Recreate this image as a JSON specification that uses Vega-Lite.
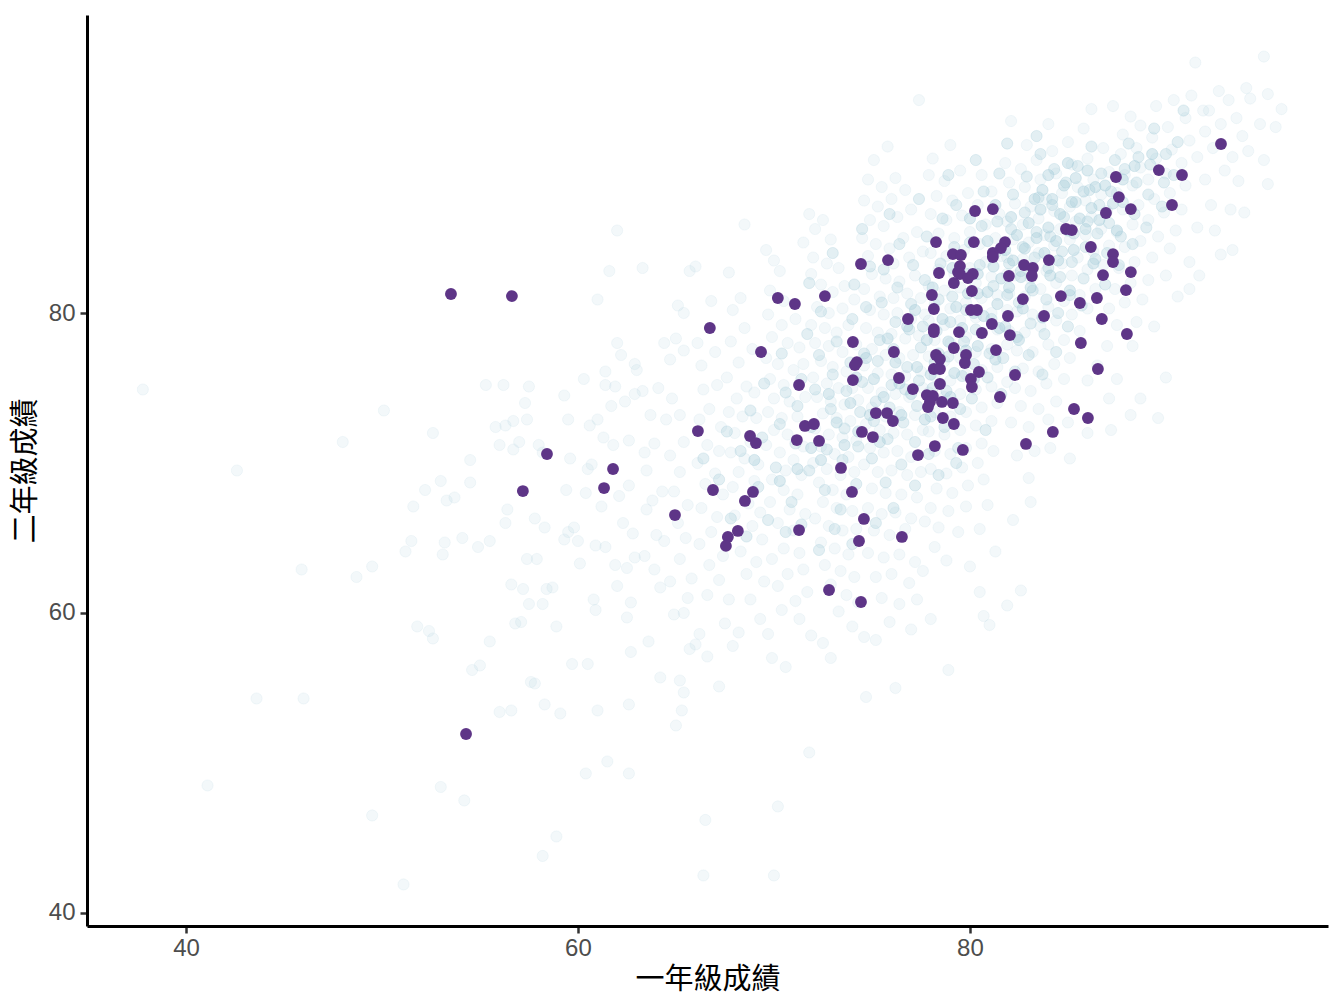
{"$schema":"https://vega.github.io/schema/vega-lite/v6.json","width":1241,"height":911,"autosize":{"type":"none"},"padding":{"left":87,"top":15,"right":16,"bottom":82},"background":"white","config":{"view":{"stroke":null},"axis":{"grid":false,"domainColor":"black","domainWidth":3,"tickColor":"#333333","tickWidth":2.5,"tickSize":7,"labelColor":"#4d4d4d","labelFont":"Liberation Sans","labelFontSize":24,"titleFont":"Noto Sans CJK TC","titleFontSize":29,"titleFontWeight":"normal","titleColor":"black"}},"datasets":{"bg":[
{"a":37.8,"b":74.9},{"a":42.6,"b":69.5},{"a":50.1,"b":73.5},{"a":48,"b":71.4},{"a":52.6,"b":72},{"a":45.9,"b":62.9},{"a":48.7,"b":62.4},{"a":49.5,"b":63.1},{"a":43.6,"b":54.3},{"a":46,"b":54.3},{"a":41.1,"b":48.5},{"a":49.5,"b":46.5},{"a":51.1,"b":41.9},{"a":53,"b":48.4},{"a":54.2,"b":47.5},{"a":58.2,"b":43.8},{"a":58.9,"b":45.1},{"a":66.4,"b":42.5},{"a":70,"b":42.5},{"a":66.5,"b":46.2},{"a":70.2,"b":47.1},{"a":71.8,"b":50.7},{"a":62.6,"b":49.3},{"a":61.5,"b":50.1},{"a":60.4,"b":49.3},{"a":56.6,"b":53.5},{"a":56,"b":53.4},{"a":59.1,"b":53.3},{"a":58.3,"b":53.9},{"a":61,"b":53.5},{"a":62.6,"b":53.9},{"a":51.8,"b":59.1},{"a":52.4,"b":58.8},{"a":52.6,"b":58.3},{"a":55.5,"b":58.1},{"a":55,"b":56.5},{"a":54.6,"b":56.2},{"a":57.6,"b":55.4},{"a":57.8,"b":55.3},{"a":59.7,"b":56.6},{"a":60.5,"b":56.6},{"a":62.7,"b":57.4},{"a":63.6,"b":58.1},{"a":64.2,"b":55.7},{"a":65.2,"b":55.5},{"a":65.4,"b":54.7},{"a":65.3,"b":53.5},{"a":65,"b":52.5},{"a":67.2,"b":55.1},{"a":78.9,"b":56.2},{"a":74.7,"b":54.4},{"a":76.2,"b":55},{"a":77.4,"b":94.2},{"a":95,"b":97.1},{"a":91.5,"b":96.7},{"a":62,"b":85.5},{"a":68.5,"b":85.9},{"a":63.3,"b":83},{"a":61.6,"b":82.8},{"a":61,"b":80.9},{"a":66,"b":83.1},{"a":65.7,"b":82.8},
{"a":51.6,"b":67.1},{"a":52.2,"b":68.2},{"a":53,"b":68.8},{"a":53.3,"b":67.5},{"a":53.7,"b":67.7},{"a":51.5,"b":64.8},{"a":51.2,"b":64.1},{"a":53.2,"b":64.7},{"a":53.1,"b":63.9},{"a":54.1,"b":65},{"a":54.9,"b":64.4},{"a":55.5,"b":64.8},{"a":54.5,"b":68.7},{"a":54.5,"b":70.2},{"a":55.3,"b":75.2},{"a":56.2,"b":75.2},{"a":55.8,"b":72.4},{"a":56.3,"b":72.5},{"a":56.7,"b":72.8},{"a":56,"b":71.2},{"a":56.7,"b":70.9},{"a":57,"b":71.4},{"a":57.5,"b":75.1},{"a":57.3,"b":74},{"a":57.4,"b":72.9},{"a":58,"b":71.2},{"a":58.2,"b":70.7},{"a":56.4,"b":66.9},{"a":56.3,"b":66},{"a":57.8,"b":66.3},{"a":58.3,"b":65.7},{"a":57.4,"b":63.6},{"a":57.9,"b":63.6},{"a":56.6,"b":61.9},{"a":57.2,"b":61.6},{"a":57.5,"b":60.6},{"a":58.4,"b":61.6},{"a":58.7,"b":61.7},{"a":58.2,"b":60.6},{"a":56.8,"b":59.3},{"a":57.1,"b":59.4},{"a":58.9,"b":59.1},{"a":59.3,"b":74.5},{"a":59.5,"b":72.9},{"a":59.6,"b":70.3},{"a":59.4,"b":68.2},{"a":59.8,"b":65.7},{"a":59.5,"b":65.4},{"a":59.3,"b":64.9},{"a":60,"b":64.8},{"a":60.1,"b":63.3},{"a":60.8,"b":60.9},{"a":60.9,"b":60.2},
{"a":60.3,"b":75.6},{"a":61.4,"b":76.1},{"a":61.4,"b":75.2},{"a":61.9,"b":75.1},{"a":62,"b":78},{"a":62.2,"b":77.2},{"a":62.9,"b":76.6},{"a":63,"b":76.2},{"a":62.4,"b":74.1},{"a":61.7,"b":73.8},{"a":62.9,"b":74.6},{"a":60.6,"b":72.5},{"a":61,"b":72.9},{"a":61.3,"b":71.7},{"a":61.8,"b":71.2},{"a":62.6,"b":71.5},{"a":60.5,"b":69.6},{"a":60.7,"b":69.9},{"a":60.4,"b":68},{"a":61.2,"b":67.1},{"a":62.1,"b":67.8},{"a":62.6,"b":68.5},{"a":62.3,"b":66},{"a":62.8,"b":65.3},{"a":60.9,"b":64.5},{"a":61.4,"b":64.4},{"a":61.9,"b":63.2},{"a":62.5,"b":63},{"a":62.9,"b":63.7},{"a":62,"b":61.8},{"a":62.7,"b":60.7},{"a":62.5,"b":59.7},{"a":63.3,"b":74.8},{"a":63.7,"b":73.2},{"a":63.4,"b":70.7},{"a":63.9,"b":71.3},{"a":63.5,"b":69.5},{"a":63.8,"b":67.5},{"a":64.3,"b":68.1},{"a":63.5,"b":66.9},{"a":64,"b":65.2},{"a":64.4,"b":64.8},{"a":63.4,"b":63.8},{"a":63.9,"b":62.9},{"a":64.2,"b":61.7},{"a":64.7,"b":62.1},{"a":64.9,"b":59.9},{"a":65.4,"b":60},{"a":64.4,"b":78},{"a":65.1,"b":80.5},{"a":65.4,"b":80},{"a":65,"b":78.3},{"a":64.7,"b":76.9},{"a":65.4,"b":77.5},{"a":64.1,"b":75},{"a":64.8,"b":74.3},{"a":65.2,"b":73.2},{"a":64.5,"b":72.9},{"a":65.4,"b":71.4},{"a":64.7,"b":70.5},{"a":65.2,"b":69.4},{"a":64.9,"b":68.1},{"a":65.6,"b":67.2},{"a":65.1,"b":66},{"a":65.5,"b":65},{"a":65.2,"b":63.6},{"a":65.8,"b":62.3},{"a":65.6,"b":61},{"a":66.2,"b":58.6},{"a":66,"b":57.9},{"a":66.6,"b":57.1},{"a":65.7,"b":57.6},
{"a":66.1,"b":78},{"a":66.8,"b":80.8},{"a":66.3,"b":76.5},{"a":67,"b":77.4},{"a":66.4,"b":74.9},{"a":67.1,"b":75.2},{"a":66.7,"b":73.6},{"a":66.2,"b":72.9},{"a":67.3,"b":72.4},{"a":66.6,"b":71.2},{"a":67.2,"b":70.8},{"a":66.1,"b":70},{"a":67,"b":69.3},{"a":66.5,"b":68.6},{"a":67.4,"b":67.9},{"a":66.3,"b":67},{"a":67.1,"b":66.4},{"a":66.8,"b":65.4},{"a":66.2,"b":64.6},{"a":67.4,"b":63.8},{"a":66.7,"b":63.2},{"a":67.2,"b":62.2},{"a":66.6,"b":61.2},{"a":67.7,"b":60.9},{"a":67.5,"b":59.3},{"a":67.9,"b":57.8},{"a":68.2,"b":58.7},{"a":67.7,"b":82.7},{"a":67.9,"b":80.2},{"a":68.3,"b":81},{"a":68.5,"b":79},{"a":67.8,"b":78.1},{"a":68.2,"b":76.7},{"a":68.9,"b":77.6},{"a":67.6,"b":75.7},{"a":68.6,"b":75.1},{"a":68.1,"b":74.3},{"a":69,"b":74.7},{"a":67.7,"b":73.4},{"a":68.4,"b":73.1},{"a":69.1,"b":73},{"a":68,"b":72},{"a":68.8,"b":71.4},{"a":67.8,"b":70.7},{"a":68.5,"b":70.3},{"a":69.2,"b":69.9},{"a":68.2,"b":69.4},{"a":69,"b":68.8},{"a":67.9,"b":68.4},{"a":68.7,"b":67.3},{"a":69.3,"b":66.7},{"a":68,"b":66.5},{"a":68.9,"b":65.8},{"a":69.4,"b":64.9},{"a":68.3,"b":64.1},{"a":69.1,"b":63.4},{"a":68.6,"b":62.6},{"a":69.5,"b":62.1},{"a":68.8,"b":60.9},{"a":69.3,"b":59.6},{"a":69.7,"b":58.6},{"a":69.9,"b":57},{"a":70.6,"b":56.4},
{"a":69.6,"b":84.2},{"a":70,"b":83.5},{"a":70.3,"b":82.8},{"a":69.8,"b":81.5},{"a":70.5,"b":80.8},{"a":69.7,"b":79.9},{"a":70.4,"b":79.2},{"a":71.1,"b":79.6},{"a":69.9,"b":78.4},{"a":70.7,"b":78},{"a":71.3,"b":77.7},{"a":69.6,"b":77},{"a":70.2,"b":76.6},{"a":71,"b":76.2},{"a":71.5,"b":76.6},{"a":69.8,"b":75.6},{"a":70.5,"b":75.2},{"a":70,"b":74.3},{"a":70.8,"b":74.1},{"a":71.6,"b":74.4},{"a":69.7,"b":73.4},{"a":70.4,"b":73},{"a":71.2,"b":73.1},{"a":70,"b":72.2},{"a":70.7,"b":71.9},{"a":71.5,"b":71.1},{"a":69.6,"b":71.2},{"a":70.3,"b":70.7},{"a":71,"b":70.2},{"a":70.6,"b":69.5},{"a":71.4,"b":69.2},{"a":69.9,"b":68.9},{"a":70.5,"b":68.2},{"a":71.2,"b":67.9},{"a":69.8,"b":67.4},{"a":70.8,"b":66.9},{"a":71.6,"b":66.6},{"a":70.2,"b":66},{"a":71,"b":65.5},{"a":70.5,"b":64.3},{"a":71.3,"b":64},{"a":69.9,"b":63.6},{"a":70.7,"b":62.6},{"a":71.5,"b":62.9},{"a":70.2,"b":61.8},{"a":71.1,"b":60.8},{"a":71.7,"b":61.4},{"a":70.4,"b":60.2},{"a":71.3,"b":59.6},{"a":71.9,"b":58.5},{"a":72.5,"b":58},{"a":72.9,"b":57},
{"a":71.8,"b":86.6},{"a":72.1,"b":85.6},{"a":72.5,"b":86.2},{"a":71.5,"b":84.7},{"a":72.9,"b":84.9},{"a":72,"b":83.7},{"a":72.7,"b":83.3},{"a":71.9,"b":82.6},{"a":73.3,"b":83},{"a":72.4,"b":81.9},{"a":73,"b":81.4},{"a":73.6,"b":81.8},{"a":72.2,"b":80.4},{"a":72.8,"b":80},{"a":73.5,"b":80.3},{"a":74.1,"b":80.9},{"a":71.9,"b":79.2},{"a":72.6,"b":79},{"a":73.2,"b":78.7},{"a":73.8,"b":79.2},{"a":72.1,"b":78},{"a":72.8,"b":77.8},{"a":73.5,"b":77.4},{"a":74.2,"b":77.9},{"a":72.4,"b":76.8},{"a":73,"b":76.4},{"a":73.7,"b":76.1},{"a":72,"b":75.7},{"a":72.7,"b":75.3},{"a":73.3,"b":75},{"a":74,"b":75},{"a":72.2,"b":74.4},{"a":72.9,"b":74.1},{"a":73.6,"b":73.9},{"a":74.3,"b":74.2},{"a":72.5,"b":73.3},{"a":73.2,"b":73},{"a":73.9,"b":72.8},{"a":72.1,"b":72.3},{"a":72.8,"b":71.9},{"a":73.5,"b":71.7},{"a":74.2,"b":71.5},{"a":72.4,"b":71.1},{"a":73.1,"b":70.6},{"a":73.8,"b":70.4},{"a":72,"b":70},{"a":72.7,"b":69.6},{"a":73.4,"b":69.2},{"a":74.1,"b":69.4},{"a":72.3,"b":68.7},{"a":73,"b":68.2},{"a":73.7,"b":67.9},{"a":72.5,"b":67.4},{"a":73.2,"b":67},{"a":74,"b":66.8},{"a":72.1,"b":66.3},{"a":72.8,"b":65.8},{"a":73.5,"b":65.5},{"a":74.2,"b":65.6},{"a":72.4,"b":64.7},{"a":73.1,"b":64.3},{"a":73.8,"b":63.9},{"a":72.6,"b":63.2},{"a":73.4,"b":62.8},{"a":74.1,"b":62.4},{"a":72.9,"b":61.9},{"a":73.7,"b":61.2},{"a":74.3,"b":60.7},{"a":73.3,"b":60.1},{"a":74,"b":59.1},{"a":74.6,"b":58.4},{"a":75.2,"b":58.2},
{"a":75.1,"b":90.2},{"a":75.8,"b":91.1},{"a":74.8,"b":88.9},{"a":75.5,"b":88.4},{"a":76.2,"b":89},{"a":74.6,"b":87.5},{"a":75.3,"b":87.1},{"a":76,"b":87.6},{"a":76.7,"b":88.2},{"a":74.9,"b":86.2},{"a":75.6,"b":85.8},{"a":76.3,"b":86.4},{"a":77,"b":86.9},{"a":74.5,"b":85},{"a":75.2,"b":84.6},{"a":75.9,"b":84.3},{"a":76.6,"b":85},{"a":77.3,"b":85.4},{"a":74.8,"b":83.8},{"a":76.1,"b":83.3},{"a":76.9,"b":83.7},{"a":77.6,"b":84.1},{"a":75,"b":82.6},{"a":75.7,"b":82.3},{"a":76.4,"b":82.1},{"a":77.2,"b":82.5},{"a":74.6,"b":81.6},{"a":75.4,"b":81.1},{"a":76.1,"b":81},{"a":76.8,"b":81.3},{"a":77.5,"b":81},{"a":74.9,"b":80.2},{"a":75.6,"b":79.9},{"a":76.3,"b":80},{"a":77,"b":79.6},{"a":77.7,"b":79.9},{"a":74.7,"b":79},{"a":75.3,"b":78.7},{"a":76,"b":78.6},{"a":76.7,"b":78.3},{"a":77.4,"b":78.5},{"a":75,"b":77.6},{"a":75.7,"b":77.2},{"a":76.4,"b":77},{"a":77.1,"b":77.2},{"a":74.6,"b":76.5},{"a":75.3,"b":76},{"a":76,"b":75.9},{"a":76.7,"b":75.8},{"a":77.5,"b":76.1},{"a":74.8,"b":75},{"a":75.5,"b":74.7},{"a":76.2,"b":74.6},{"a":76.9,"b":74.4},{"a":77.6,"b":75},{"a":75,"b":73.7},{"a":75.7,"b":73.1},{"a":76.4,"b":73.4},{"a":77.2,"b":73.2},{"a":74.7,"b":72.6},{"a":75.4,"b":72.2},{"a":76.1,"b":72},{"a":76.8,"b":71.9},{"a":77.6,"b":72.2},{"a":74.9,"b":71},{"a":75.6,"b":70.7},{"a":76.3,"b":70.8},{"a":77,"b":70.4},{"a":74.6,"b":69.9},{"a":75.3,"b":69.4},{"a":76,"b":69.5},{"a":76.8,"b":69.2},{"a":77.5,"b":69.4},{"a":75,"b":68.3},{"a":75.7,"b":68},{"a":76.5,"b":67.9},{"a":77.3,"b":67.7},{"a":74.8,"b":67},{"a":75.5,"b":66.6},{"a":76.2,"b":66.7},{"a":77,"b":66.3},{"a":77.7,"b":66.1},{"a":75.1,"b":65.5},{"a":75.9,"b":65.2},{"a":76.7,"b":65.6},{"a":74.8,"b":64},{"a":75.6,"b":63.7},{"a":76.4,"b":63.9},{"a":77.2,"b":63.4},{"a":75.2,"b":62.4},{"a":76,"b":62.6},{"a":76.9,"b":62},{"a":77.6,"b":62.8},{"a":75.5,"b":61},{"a":76.4,"b":60.6},{"a":77.3,"b":60.9},{"a":75.9,"b":59.4},{"a":77,"b":58.9},{"a":78,"b":59.6},
{"a":78.1,"b":90.3},{"a":79,"b":91.2},{"a":77.9,"b":89.2},{"a":78.7,"b":88.8},{"a":79.5,"b":89.5},{"a":78.3,"b":87.8},{"a":79.1,"b":87.5},{"a":79.9,"b":88},{"a":80.6,"b":89.2},{"a":78,"b":86.6},{"a":78.8,"b":86.2},{"a":79.6,"b":86.5},{"a":80.4,"b":87.2},{"a":81.1,"b":88.1},{"a":78.4,"b":85.3},{"a":79.2,"b":85},{"a":80,"b":85.4},{"a":80.8,"b":85.9},{"a":81.5,"b":86.6},{"a":78,"b":84},{"a":78.8,"b":83.8},{"a":79.7,"b":84.2},{"a":80.5,"b":84.6},{"a":81.3,"b":85},{"a":78.4,"b":82.9},{"a":79.2,"b":82.6},{"a":80,"b":83},{"a":80.8,"b":83.4},{"a":81.6,"b":83.8},{"a":77.9,"b":81.8},{"a":78.7,"b":81.5},{"a":79.5,"b":81.7},{"a":80.3,"b":82},{"a":81.1,"b":82.4},{"a":81.9,"b":82.6},{"a":78.2,"b":80.6},{"a":79,"b":80.3},{"a":79.8,"b":80.7},{"a":80.6,"b":81},{"a":81.4,"b":81.2},{"a":77.9,"b":79.5},{"a":78.7,"b":79.2},{"a":79.5,"b":79.5},{"a":80.3,"b":79.7},{"a":81.1,"b":80},{"a":81.9,"b":80.2},{"a":78.2,"b":78.2},{"a":79,"b":78},{"a":79.8,"b":78.4},{"a":80.6,"b":78.6},{"a":81.4,"b":78.9},{"a":77.9,"b":77.1},{"a":78.7,"b":76.8},{"a":79.5,"b":77},{"a":80.3,"b":77.4},{"a":81.1,"b":77.6},{"a":81.9,"b":77.9},{"a":78.2,"b":75.8},{"a":79,"b":75.5},{"a":79.8,"b":75.9},{"a":80.6,"b":76.2},{"a":81.4,"b":76.4},{"a":77.9,"b":74.7},{"a":78.7,"b":74.4},{"a":79.5,"b":74.6},{"a":80.3,"b":74.9},{"a":81.1,"b":75.1},{"a":81.9,"b":75.4},{"a":78.2,"b":73.4},{"a":79,"b":73.1},{"a":79.8,"b":73.4},{"a":80.6,"b":73.7},{"a":81.4,"b":74},{"a":77.9,"b":72.1},{"a":78.7,"b":71.9},{"a":79.5,"b":72.2},{"a":80.3,"b":72.5},{"a":81.1,"b":72.8},{"a":78.2,"b":70.8},{"a":79,"b":70.6},{"a":79.8,"b":71},{"a":80.6,"b":71.3},{"a":78,"b":69.6},{"a":78.8,"b":69.3},{"a":79.6,"b":69.7},{"a":80.4,"b":70},{"a":81.2,"b":70.8},{"a":78.3,"b":68.3},{"a":79.1,"b":68},{"a":79.9,"b":68.5},{"a":80.7,"b":68.9},{"a":78,"b":67},{"a":78.9,"b":66.8},{"a":79.8,"b":67.1},{"a":80.9,"b":67.2},{"a":78.4,"b":65.7},{"a":79.4,"b":65.4},{"a":80.5,"b":65.6},{"a":81.3,"b":64.1},{"a":78.2,"b":64.4},{"a":78.8,"b":63.5},{"a":80,"b":63.1},{"a":80.5,"b":61.4},{"a":82.6,"b":61.5},{"a":81.9,"b":60.5},{"a":80.7,"b":59.8},{"a":81,"b":59.2},{"a":83.1,"b":67.4},{"a":82.2,"b":66.2},
{"a":82.1,"b":92.8},{"a":82.9,"b":91.2},{"a":84,"b":92.6},{"a":81.8,"b":90},{"a":82.6,"b":89.6},{"a":83.4,"b":90.2},{"a":84.2,"b":90.8},{"a":85,"b":91.4},{"a":85.8,"b":92.3},{"a":82,"b":88.7},{"a":82.8,"b":88.4},{"a":83.6,"b":88.9},{"a":84.4,"b":89.3},{"a":85.2,"b":89.9},{"a":86,"b":90.3},{"a":86.8,"b":91},{"a":82.3,"b":87.3},{"a":83.1,"b":87.1},{"a":83.9,"b":87.6},{"a":84.7,"b":88},{"a":85.5,"b":88.4},{"a":86.3,"b":88.9},{"a":87.1,"b":89.4},{"a":81.9,"b":86.1},{"a":82.7,"b":85.9},{"a":83.5,"b":86.3},{"a":84.3,"b":86.8},{"a":85.1,"b":87.1},{"a":85.9,"b":87.5},{"a":86.7,"b":87.9},{"a":82.2,"b":84.9},{"a":83,"b":84.7},{"a":83.8,"b":85.2},{"a":84.6,"b":85.6},{"a":85.4,"b":86.1},{"a":86.2,"b":86.4},{"a":87,"b":86.8},{"a":81.9,"b":83.7},{"a":82.7,"b":83.6},{"a":83.5,"b":84},{"a":84.3,"b":84.5},{"a":85.1,"b":84.9},{"a":85.9,"b":85.2},{"a":86.7,"b":85.6},{"a":82.3,"b":82.5},{"a":83.1,"b":82.3},{"a":83.9,"b":82.8},{"a":84.7,"b":83.3},{"a":85.5,"b":83.7},{"a":86.3,"b":84.1},{"a":87.1,"b":84.5},{"a":82,"b":81.3},{"a":82.8,"b":81.1},{"a":83.6,"b":81.6},{"a":84.4,"b":82},{"a":85.2,"b":82.5},{"a":86,"b":82.9},{"a":86.8,"b":83.2},{"a":82.4,"b":80.1},{"a":83.2,"b":79.9},{"a":84,"b":80.4},{"a":84.8,"b":80.8},{"a":85.6,"b":81.2},{"a":86.4,"b":81.6},{"a":82,"b":78.8},{"a":82.8,"b":78.7},{"a":83.6,"b":79.1},{"a":84.4,"b":79.5},{"a":85.2,"b":79.9},{"a":86,"b":80.3},{"a":82.4,"b":77.5},{"a":83.2,"b":77.4},{"a":84,"b":77.9},{"a":84.8,"b":78.2},{"a":85.6,"b":78.8},{"a":82.7,"b":76.3},{"a":83.5,"b":76.1},{"a":84.3,"b":76.6},{"a":85.1,"b":77},{"a":82.3,"b":75},{"a":83.1,"b":74.8},{"a":83.9,"b":75.3},{"a":84.8,"b":75.6},{"a":82.6,"b":73.8},{"a":83.5,"b":73.6},{"a":84.4,"b":74.1},{"a":82.1,"b":72.7},{"a":83,"b":72.4},{"a":84,"b":72.9},{"a":85,"b":72.7},{"a":83.3,"b":70.8},{"a":82.4,"b":70.5},{"a":84.1,"b":71},{"a":83,"b":69},{"a":85.1,"b":70.3},
{"a":87.3,"b":93.8},{"a":88.2,"b":93.1},{"a":86.2,"b":93.6},{"a":87.8,"b":91.9},{"a":88.7,"b":92.5},{"a":89.5,"b":93.8},{"a":90.4,"b":94.2},{"a":91.3,"b":94.5},{"a":87.7,"b":90.6},{"a":88.5,"b":91},{"a":89.3,"b":91.7},{"a":90.1,"b":92.4},{"a":91,"b":93},{"a":91.9,"b":93.5},{"a":87.9,"b":89.2},{"a":88.7,"b":89.7},{"a":89.5,"b":90.3},{"a":90.3,"b":90.9},{"a":91.2,"b":91.5},{"a":92,"b":92.1},{"a":87.5,"b":88},{"a":88.3,"b":88.5},{"a":89.1,"b":88.9},{"a":90,"b":89.3},{"a":90.8,"b":90},{"a":91.6,"b":90.4},{"a":87.8,"b":86.9},{"a":88.6,"b":87.2},{"a":89.4,"b":87.6},{"a":90.2,"b":88},{"a":91,"b":88.5},{"a":87.5,"b":85.4},{"a":88.3,"b":85.9},{"a":89.1,"b":86.2},{"a":89.9,"b":86.7},{"a":90.8,"b":86.9},{"a":87.9,"b":84.4},{"a":88.7,"b":84.8},{"a":89.6,"b":85.1},{"a":90.5,"b":85.5},{"a":87.6,"b":83},{"a":88.4,"b":83.4},{"a":89.3,"b":83.7},{"a":90.2,"b":84.3},{"a":87.4,"b":81.6},{"a":88.2,"b":82},{"a":89.1,"b":82.2},{"a":90,"b":82.5},{"a":87.1,"b":80.3},{"a":87.9,"b":80.7},{"a":88.8,"b":80.9},{"a":90.6,"b":81.1},{"a":91.2,"b":81.6},{"a":87.5,"b":79.2},{"a":88.5,"b":79.4},{"a":89.4,"b":79.1},{"a":87,"b":77.8},{"a":88.3,"b":77.8},{"a":86.5,"b":76.5},{"a":87.5,"b":75.6},{"a":88.7,"b":74.3},{"a":87.1,"b":74.3},{"a":86,"b":75.5},{"a":87.2,"b":72.2},{"a":88.2,"b":73.2},{"a":90,"b":75.7},{"a":89.6,"b":73},{"a":86,"b":72},
{"a":92.2,"b":93.5},{"a":92.7,"b":94.8},{"a":93.2,"b":94.2},{"a":94.1,"b":95},{"a":94.3,"b":94.3},{"a":95.2,"b":94.6},{"a":95.9,"b":93.6},{"a":93.6,"b":93},{"a":92.8,"b":92.6},{"a":93.9,"b":91.8},{"a":94.8,"b":92.6},{"a":95.6,"b":92.4},{"a":92.4,"b":91},{"a":93.4,"b":90.4},{"a":94.2,"b":90.8},{"a":93,"b":89.5},{"a":92,"b":88.9},{"a":93.7,"b":88.8},{"a":95,"b":90.2},{"a":95.2,"b":88.6},{"a":92.3,"b":87.2},{"a":93.3,"b":86.9},{"a":94,"b":86.7},{"a":91.6,"b":85.7},{"a":92.5,"b":85.5},{"a":92.8,"b":83.9},{"a":91.2,"b":83.4},{"a":91.7,"b":82.5},{"a":93.4,"b":84.2}
],"mid":[
{"a":66.4,"b":70.3},{"a":67.6,"b":72.1},{"a":67.2,"b":68.9},{"a":68.3,"b":70.8},{"a":68.8,"b":73.5},{"a":69.2,"b":68.4},{"a":69.4,"b":71.7},{"a":69.5,"b":75.3},{"a":70.1,"b":69.7},{"a":70.3,"b":72.6},{"a":70.6,"b":74.7},{"a":70.4,"b":77.3},{"a":70.9,"b":67.4},{"a":71.1,"b":71.3},{"a":71.2,"b":73.8},{"a":71.4,"b":75.6},{"a":71.7,"b":78.6},{"a":71.8,"b":69.5},{"a":71.9,"b":72.4},{"a":72.1,"b":74.9},{"a":72.3,"b":77.2},{"a":72.4,"b":80.1},{"a":72.6,"b":68.2},{"a":72.7,"b":70.9},{"a":72.9,"b":73.6},{"a":73,"b":75.9},{"a":73.2,"b":78.1},{"a":73.4,"b":66.9},{"a":73.5,"b":70.2},{"a":73.6,"b":72.3},{"a":73.7,"b":74.8},{"a":73.9,"b":76.7},{"a":74,"b":79.6},{"a":74.1,"b":81.9},{"a":74.2,"b":68.6},{"a":74.3,"b":71.1},{"a":74.4,"b":73.4},{"a":74.5,"b":75.4},{"a":74.6,"b":77.3},{"a":74.7,"b":80.4},{"a":74.9,"b":83.1},{"a":75,"b":70.3},{"a":75.1,"b":72.8},{"a":75.2,"b":74.1},{"a":75.3,"b":76.8},{"a":75.4,"b":78.2},{"a":75.5,"b":80.7},{"a":75.6,"b":82.9},{"a":75.7,"b":68.7},{"a":75.8,"b":71.6},{"a":75.9,"b":73.7},{"a":76,"b":75.2},{"a":76.1,"b":77.6},{"a":76.2,"b":79.4},{"a":76.3,"b":81.7},{"a":76.4,"b":84.6},{"a":76.5,"b":69.9},{"a":76.6,"b":72.7},{"a":76.7,"b":74.9},{"a":76.8,"b":76.4},{"a":76.9,"b":78.9},{"a":77,"b":80.6},{"a":77.1,"b":83.2},{"a":77.2,"b":71.4},{"a":77.3,"b":73.8},{"a":77.4,"b":75.5},{"a":77.5,"b":77.7},{"a":77.6,"b":79.1},{"a":77.7,"b":82.2},{"a":77.8,"b":85.1},{"a":77.9,"b":70.6},{"a":78,"b":73.1},{"a":78.1,"b":75},{"a":78.2,"b":76.7},{"a":78.3,"b":78.8},{"a":78.4,"b":80.9},{"a":78.5,"b":83.3},{"a":78.6,"b":86.3},{"a":78.7,"b":72.4},{"a":78.8,"b":74.8},{"a":78.9,"b":77.1},{"a":79,"b":79.4},{"a":79.1,"b":81.1},{"a":79.2,"b":84.4},{"a":79.3,"b":87.2},{"a":79.4,"b":71},{"a":79.5,"b":73.6},{"a":79.6,"b":75.8},{"a":79.7,"b":78.1},{"a":79.8,"b":80.2},{"a":79.9,"b":82.6},{"a":80,"b":84.7},{"a":80.1,"b":74.3},{"a":80.2,"b":76.6},{"a":80.3,"b":78.9},{"a":80.4,"b":81.3},{"a":80.5,"b":83.2},{"a":80.6,"b":85.8},{"a":80.7,"b":88.1},{"a":80.8,"b":72.2},{"a":80.9,"b":75.7},{"a":81,"b":77.3},{"a":81.1,"b":79.6},{"a":81.2,"b":81.8},{"a":81.3,"b":84},{"a":81.4,"b":86.1},{"a":81.5,"b":89.3},{"a":81.6,"b":74.6},{"a":81.7,"b":77},{"a":81.8,"b":79.1},{"a":81.9,"b":81.2},{"a":82,"b":83.3},{"a":82.1,"b":85.6},{"a":82.2,"b":87.9},{"a":82.3,"b":76.1},{"a":82.4,"b":78.4},{"a":82.5,"b":80.7},{"a":82.6,"b":82.8},{"a":82.7,"b":84.4},{"a":82.8,"b":86.7},{"a":82.9,"b":89.1},{"a":83,"b":77.2},{"a":83.1,"b":79.3},{"a":83.2,"b":81.5},{"a":83.3,"b":83.7},{"a":83.4,"b":85.4},{"a":83.5,"b":87.7},{"a":83.6,"b":90.6},{"a":83.7,"b":75.9},{"a":83.8,"b":78.6},{"a":83.9,"b":80.9},{"a":84,"b":83},{"a":84.1,"b":85.1},{"a":84.2,"b":87.2},{"a":84.3,"b":89.6},{"a":84.4,"b":77.4},{"a":84.5,"b":80},{"a":84.6,"b":82.4},{"a":84.7,"b":84.1},{"a":84.8,"b":86.4},{"a":84.9,"b":88.7},{"a":85,"b":79.1},{"a":85.1,"b":81.2},{"a":85.2,"b":83.4},{"a":85.3,"b":85.3},{"a":85.4,"b":87.4},{"a":85.5,"b":89.8},{"a":85.7,"b":80.5},{"a":85.8,"b":82.3},{"a":85.9,"b":84.4},{"a":86,"b":86.1},{"a":86.1,"b":88.2},{"a":86.2,"b":91.1},{"a":86.4,"b":83.6},{"a":86.5,"b":85.3},{"a":86.6,"b":87.2},{"a":86.7,"b":89.3},{"a":86.9,"b":81.9},{"a":87,"b":84},{"a":87.1,"b":86},{"a":87.2,"b":88.1},{"a":87.4,"b":90.2},{"a":87.6,"b":83.2},{"a":87.7,"b":85.1},{"a":87.8,"b":87.4},{"a":87.9,"b":89.6},{"a":88.1,"b":91.3},{"a":88.3,"b":84.6},{"a":88.4,"b":86.6},{"a":88.5,"b":88.7},{"a":88.6,"b":90.4},{"a":89,"b":85.7},{"a":89.1,"b":87.9},{"a":89.2,"b":89.9},{"a":89.4,"b":92.3},{"a":89.8,"b":87.1},{"a":89.9,"b":88.7},{"a":90,"b":90.6},{"a":90.4,"b":89.2},{"a":90.6,"b":91.4},{"a":90.9,"b":93.5},{"a":67.8,"b":66.3},{"a":68.6,"b":65.1},{"a":69.7,"b":66.2},{"a":70.6,"b":65.4},{"a":71.4,"b":65.9},{"a":72.3,"b":64.2},{"a":73.1,"b":65.6},{"a":74,"b":64.6},{"a":75.2,"b":66},{"a":76.1,"b":67},{"a":77.2,"b":68.5},{"a":78.4,"b":69.2},{"a":79.3,"b":70},{"a":71.8,"b":82},{"a":73,"b":84},{"a":74.5,"b":85.6},{"a":75.9,"b":86.6},{"a":77.4,"b":87.6},{"a":78.9,"b":89.2},{"a":80.3,"b":90.2},{"a":81.9,"b":91.3},{"a":83.4,"b":91.8}
],"core":[
{"a":77.3,"b":76.4},{"a":77.8,"b":78.2},{"a":78.4,"b":77.3},{"a":78.6,"b":79.6},{"a":78.9,"b":78.1},{"a":79.3,"b":80.4},{"a":79.6,"b":79},{"a":79.9,"b":81.3},{"a":80.2,"b":80},{"a":80.4,"b":82.6},{"a":80.7,"b":79.8},{"a":80.9,"b":81.4},{"a":81.2,"b":83.1},{"a":81.4,"b":80.6},{"a":81.6,"b":82.3},{"a":81.8,"b":84.2},{"a":82,"b":81.7},{"a":82.2,"b":83.5},{"a":82.4,"b":85.2},{"a":82.6,"b":82.4},{"a":82.8,"b":84.3},{"a":83,"b":86},{"a":83.2,"b":83},{"a":83.4,"b":85},{"a":83.6,"b":86.9},{"a":83.8,"b":84},{"a":84,"b":85.7},{"a":84.2,"b":87.6},{"a":84.4,"b":84.8},{"a":84.6,"b":86.6},{"a":84.8,"b":88.5},{"a":85,"b":85.5},{"a":85.2,"b":87.4},{"a":85.4,"b":89},{"a":85.6,"b":86.3},{"a":85.8,"b":88.1},{"a":86,"b":89.5},{"a":86.2,"b":87},{"a":86.4,"b":88.4},{"a":86.6,"b":86.2},{"a":83.7,"b":88.2},{"a":84.5,"b":83.5},{"a":85.3,"b":84.2},{"a":83.1,"b":81.7},{"a":81.5,"b":79},{"a":79.8,"b":77.5},{"a":76.4,"b":75.3},{"a":75.6,"b":74.4},{"a":76.2,"b":76.7},{"a":74.9,"b":73.2},{"a":74.3,"b":72.1},{"a":75.1,"b":75.6},{"a":73.6,"b":71.2},{"a":73.2,"b":72.7},{"a":72.4,"b":70.2},{"a":71.9,"b":71},{"a":71.2,"b":69.6},{"a":77,"b":74.6},{"a":78,"b":75.9},{"a":79.2,"b":76},{"a":80.4,"b":77.8},{"a":82.7,"b":80.3},{"a":85.9,"b":85.6},{"a":84.1,"b":82.5},{"a":86.9,"b":88.5},{"a":87.3,"b":87.3},{"a":87.8,"b":88.9},{"a":80.9,"b":84.8},{"a":82.1,"b":86.4},{"a":83.3,"b":87.6},{"a":79.1,"b":83},{"a":78.1,"b":81.7},{"a":77.2,"b":80.2},{"a":74.7,"b":77},{"a":75.8,"b":78.3},{"a":76.8,"b":79.1},{"a":73.9,"b":74},{"a":72.8,"b":74.6},{"a":74.2,"b":75.7},{"a":76.5,"b":73.2},{"a":77.7,"b":72.9},{"a":79,"b":74.4},{"a":80.2,"b":75.6},{"a":81.3,"b":76.9},{"a":82.5,"b":78.2},{"a":83.7,"b":79.7},{"a":85.1,"b":81.5},{"a":86.3,"b":83.3},{"a":87.5,"b":85.5},{"a":80,"b":86.3},{"a":81.3,"b":87.2},{"a":85,"b":90},{"a":84,"b":89.2},{"a":88.4,"b":89.8},{"a":89.3,"b":90.6},{"a":75.4,"b":71.4},{"a":70.3,"b":68.8},{"a":69,"b":70.2}
],"fg":[
{"a":92.81,"b":91.27},{"a":89.64,"b":89.53},{"a":90.82,"b":89.2},{"a":87.45,"b":89.07},{"a":87.6,"b":87.73},{"a":90.31,"b":87.2},{"a":88.21,"b":86.93},{"a":86.94,"b":86.67},{"a":80.26,"b":86.8},{"a":81.17,"b":86.93},{"a":84.9,"b":85.6},{"a":85.2,"b":85.53},{"a":78.27,"b":84.73},{"a":80.2,"b":84.73},{"a":81.79,"b":84.73},{"a":81.58,"b":84.33},{"a":81.17,"b":84},{"a":86.17,"b":84.4},{"a":79.13,"b":83.93},{"a":79.54,"b":83.87},{"a":81.17,"b":83.73},{"a":87.3,"b":83.93},{"a":84.03,"b":83.53},{"a":87.3,"b":83.4},{"a":74.44,"b":83.27},{"a":75.82,"b":83.53},{"a":79.49,"b":83.13},{"a":79.39,"b":82.73},{"a":78.42,"b":82.67},{"a":81.99,"b":82.47},{"a":83.21,"b":83},{"a":82.76,"b":83.2},{"a":83.16,"b":82.47},{"a":80.15,"b":82.6},{"a":79.49,"b":82.6},{"a":79.9,"b":82.33},{"a":86.79,"b":82.53},{"a":88.21,"b":82.73},{"a":79.18,"b":82},{"a":80.1,"b":81.47},{"a":87.96,"b":81.53},{"a":78.06,"b":81.2},{"a":84.64,"b":81.13},{"a":82.7,"b":80.93},{"a":86.48,"b":81},{"a":72.6,"b":81.13},{"a":70.2,"b":81},{"a":71.07,"b":80.6},{"a":85.61,"b":80.67},{"a":53.52,"b":81.27},{"a":56.63,"b":81.13},{"a":78.16,"b":80.27},{"a":80.05,"b":80.2},{"a":80.36,"b":80.2},{"a":81.94,"b":79.8},{"a":83.78,"b":79.8},{"a":76.84,"b":79.6},{"a":86.73,"b":79.6},{"a":81.12,"b":79.27},{"a":66.73,"b":79},{"a":78.16,"b":78.93},{"a":78.16,"b":78.73},{"a":79.44,"b":78.73},{"a":80.61,"b":78.67},{"a":82.04,"b":78.53},{"a":88.01,"b":78.6},{"a":74.03,"b":78.07},{"a":85.66,"b":78},{"a":79.18,"b":77.67},{"a":81.33,"b":77.53},{"a":69.34,"b":77.4},{"a":76.12,"b":77.4},{"a":78.27,"b":77.2},{"a":79.8,"b":77.2},{"a":78.47,"b":76.93},{"a":74.23,"b":76.73},{"a":74.13,"b":76.53},{"a":79.74,"b":76.67},{"a":78.16,"b":76.27},{"a":78.47,"b":76.27},{"a":80.46,"b":76.07},{"a":86.53,"b":76.27},{"a":82.3,"b":75.87},{"a":76.38,"b":75.67},{"a":74.03,"b":75.53},{"a":80.05,"b":75.6},{"a":78.47,"b":75.27},{"a":71.28,"b":75.2},{"a":80.1,"b":75.07},{"a":77.09,"b":74.93},{"a":81.53,"b":74.4},{"a":77.8,"b":74.53},{"a":78.11,"b":74.47},{"a":77.96,"b":74.07},{"a":78.57,"b":74.07},{"a":79.13,"b":74},{"a":77.86,"b":73.73},{"a":85.31,"b":73.6},{"a":75.2,"b":73.33},{"a":75.77,"b":73.33},{"a":76.07,"b":72.8},{"a":78.62,"b":73},{"a":86.02,"b":73},{"a":71.58,"b":72.47},{"a":72.04,"b":72.6},{"a":79.18,"b":72.6},{"a":74.49,"b":72.07},{"a":66.12,"b":72.13},{"a":84.23,"b":72.07},{"a":68.78,"b":71.8},{"a":75.05,"b":71.73},{"a":69.08,"b":71.33},{"a":71.17,"b":71.53},{"a":72.3,"b":71.47},{"a":82.86,"b":71.27},{"a":78.21,"b":71.13},{"a":79.64,"b":70.87},{"a":77.35,"b":70.53},{"a":58.42,"b":70.6},{"a":61.79,"b":69.6},{"a":73.42,"b":69.67},{"a":61.33,"b":68.33},{"a":57.19,"b":68.13},{"a":66.89,"b":68.2},{"a":73.98,"b":68.07},{"a":68.93,"b":68.07},{"a":68.52,"b":67.47},{"a":64.95,"b":66.53},{"a":74.59,"b":66.27},{"a":68.16,"b":65.47},{"a":71.28,"b":65.53},{"a":67.65,"b":65.07},{"a":76.53,"b":65.07},{"a":74.34,"b":64.8},{"a":67.55,"b":64.47},{"a":72.81,"b":61.53},{"a":74.44,"b":60.73},{"a":54.29,"b":51.93}
]},"layer":[{"data":{"name":"bg"},"mark":{"type":"circle","size":125,"color":"#a3cbd8","stroke":"#a3cbd8","strokeWidth":1,"fillOpacity":0.13,"strokeOpacity":0.13},"encoding":{"x":{"field":"a","type":"quantitative","title":"一年級成績","scale":{"domain":[34.95,98.27],"nice":false,"zero":false},"axis":{"values":[40,60,80],"titlePadding":5,"labelPadding":3}},"y":{"field":"b","type":"quantitative","title":"二年級成績","scale":{"domain":[39.13,99.87],"nice":false,"zero":false},"axis":{"values":[40,60,80],"titlePadding":8,"labelPadding":5}}}},{"data":{"name":"mid"},"mark":{"type":"circle","size":125,"color":"#a3cbd8","stroke":"#a3cbd8","strokeWidth":1,"fillOpacity":0.3,"strokeOpacity":0.3},"encoding":{"x":{"field":"a","type":"quantitative"},"y":{"field":"b","type":"quantitative"}}},{"data":{"name":"core"},"mark":{"type":"circle","size":125,"color":"#a3cbd8","stroke":"#a3cbd8","strokeWidth":1,"fillOpacity":0.38,"strokeOpacity":0.38},"encoding":{"x":{"field":"a","type":"quantitative"},"y":{"field":"b","type":"quantitative"}}},{"data":{"name":"fg"},"mark":{"type":"circle","size":140,"color":"#5e3587","opacity":1},"encoding":{"x":{"field":"a","type":"quantitative"},"y":{"field":"b","type":"quantitative"}}}]}
